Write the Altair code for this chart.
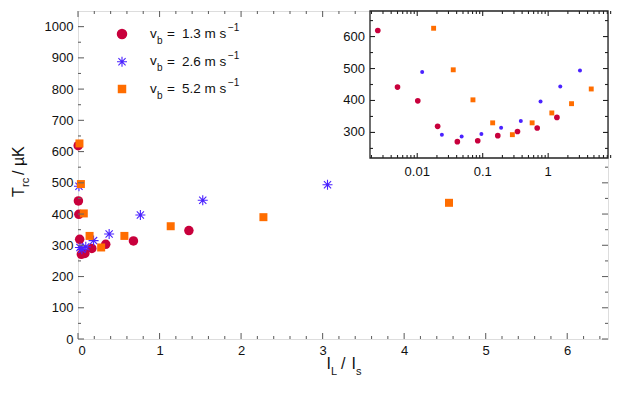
import altair as alt
import pandas as pd

# ---------------- data ----------------
red_x = [0.0025, 0.005, 0.0102, 0.0205, 0.041, 0.084, 0.17, 0.34, 0.68, 1.36]
red_y = [619, 442, 399, 319, 271, 274, 290, 303, 314, 347]
blue_x = [0.0119, 0.0238, 0.0477, 0.0955, 0.191, 0.382, 0.765, 1.53, 3.06]
blue_y = [489, 293, 287, 295, 315, 336, 397, 444, 494]
orange_x = [0.0178, 0.0355, 0.071, 0.142, 0.284, 0.569, 1.137, 2.274, 4.55]
orange_y = [626, 496, 402, 330, 293, 330, 361, 390, 436]

series_labels = ["1.3", "2.6", "5.2"]
colors = ["#C8003C", "#4A22FF", "#FF6D00"]

main_x_major = [0, 1, 2, 3, 4, 5, 6]
main_x_minor = [round(i * 0.2, 1) for i in range(0, 33) if i % 5 != 0]
main_y_major = list(range(0, 1001, 100))
main_y_minor = list(range(50, 1050, 100))
inset_x_major = [0.01, 0.1, 1]
inset_x_major_labels = ["0.01", "0.1", "1"]
inset_x_minor = [m * d for d in [0.001, 0.01, 0.1, 1] for m in range(2, 10)]
inset_y_major = [300, 400, 500, 600]
inset_y_minor = [250, 350, 450, 550, 650]

# ---------------- layout ----------------
W, H = 530, 328
IX0, IX1, IY0, IY1 = 292, 530, 0, 147
FONT = "Liberation Sans"
AX = "#666666"
INK = "#222222"

xs_main = alt.Scale(domain=[0, 6.5], nice=False, zero=False)
ys_main = alt.Scale(domain=[0, 1050], nice=False, zero=False)
xs_in = alt.Scale(type="log", domain=[0.0019, 8.2], range=[IX0, IX1], nice=False)
ys_in = alt.Scale(domain=[220, 680], range=[IY1, IY0], nice=False, zero=False)

ax_x = alt.Axis(values=main_x_major, format="d", ticks=False, domain=False, grid=False,
                title=None, labelFontSize=13, labelPadding=5, labelColor="#111",
                labelFont=FONT)
ax_y = alt.Axis(values=main_y_major, format="d", ticks=False, domain=False, grid=False,
                title=None, labelFontSize=13, labelPadding=5, labelColor="#111",
                labelFont=FONT)

STAR = "M-1,0L1,0M0,-1L0,1M-0.72,-0.72L0.72,0.72M-0.72,0.72L0.72,-0.72"

one = pd.DataFrame({"a": [0]})


def df(xs, ys):
    return pd.DataFrame({"x": xs, "y": ys})


def main_pts(xs, ys, shape, color, size, filled=True):
    mk = alt.Chart(df(xs, ys)).mark_point(shape=shape, filled=filled, color=color,
                                          size=size, opacity=1,
                                          strokeWidth=1.1)
    return mk.encode(x=alt.X("x:Q", scale=xs_main, axis=ax_x),
                     y=alt.Y("y:Q", scale=ys_main, axis=ax_y))


def inset_pts(xs, ys, shape, color, size, filled=True):
    mk = alt.Chart(df(xs, ys)).mark_point(shape=shape, filled=filled, color=color,
                                          size=size, opacity=1, strokeWidth=1)
    return mk.encode(x=alt.X("x:Q", scale=xs_in, axis=None),
                     y=alt.Y("y:Q", scale=ys_in, axis=None))


def xticks(vals, scale, axis, y0, y1, color, sw=1.1):
    return alt.Chart(pd.DataFrame({"v": vals})).mark_rule(color=color, strokeWidth=sw).encode(
        x=alt.X("v:Q", scale=scale, axis=axis), y=alt.value(y0), y2=alt.value(y1))


def yticks(vals, scale, axis, x0, x1, color, sw=1.1):
    return alt.Chart(pd.DataFrame({"v": vals})).mark_rule(color=color, strokeWidth=sw).encode(
        y=alt.Y("v:Q", scale=scale, axis=axis), x=alt.value(x0), x2=alt.value(x1))


def txt(s, x, y, size, angle=0, align="left", baseline="alphabetic"):
    return alt.Chart(one).mark_text(text=s, font=FONT, fontSize=size, angle=angle,
                                    align=align, baseline=baseline, color="#111").encode(
        x=alt.value(x), y=alt.value(y))


# ---------------- main panel ----------------
main_layers = [
    main_pts(red_x, red_y, "circle", colors[0], 90),
    main_pts(blue_x, blue_y, STAR, colors[1], 100, filled=False),
    main_pts(orange_x, orange_y, "square", colors[2], 64),
    # inward ticks: bottom, top (left of inset), left, right (below inset)
    xticks(main_x_major, xs_main, ax_x, H, H - 6, AX),
    xticks(main_x_minor, xs_main, ax_x, H, H - 3, AX),
    xticks([v for v in main_x_major if v <= 3.5], xs_main, ax_x, 0, 6, AX),
    xticks([v for v in main_x_minor if v <= 3.55], xs_main, ax_x, 0, 3, AX),
    yticks(main_y_major, ys_main, ax_y, 0, 6, AX),
    yticks(main_y_minor, ys_main, ax_y, 0, 3, AX),
    yticks([v for v in main_y_major if v <= 560], ys_main, ax_y, W, W - 6, AX),
    yticks([v for v in main_y_minor if v <= 560], ys_main, ax_y, W, W - 3, AX),
]

# legend (hand built: subscripts / superscripts)
rows = [23, 50.7, 78]
legend_layers = []
for i, ry in enumerate(rows):
    if i == 0:
        sym = alt.Chart(one).mark_point(shape="circle", filled=True, color=colors[0], size=110, opacity=1)
    elif i == 1:
        sym = alt.Chart(one).mark_point(shape=STAR, filled=False, color=colors[1], size=100,
                                        opacity=1, strokeWidth=1.1)
    else:
        sym = alt.Chart(one).mark_point(shape="square", filled=True, color=colors[2], size=72, opacity=1)
    legend_layers.append(sym.encode(x=alt.value(44), y=alt.value(ry)))
    legend_layers.append(txt("v", 72, ry + 3.5, 13.5))
    legend_layers.append(txt("b", 79, ry + 9.5, 10))
    legend_layers.append(txt("=", 89, ry + 4, 13.5))
    legend_layers.append(txt(series_labels[i] + " m s", 104, ry + 4, 13.5))
    legend_layers.append(txt("\u22121", 150, ry - 3, 10))

# axis titles
title_layers = [
    txt("T", -54, 186, 16, angle=270),
    txt("rc", -49, 176, 11, angle=270),
    txt("/ \u00b5K", -54, 164, 16, angle=270),
    txt("I", 248.5, 358, 16),
    txt("L", 253, 364, 11),
    txt("/", 263, 358, 16),
    txt("I", 273.5, 358, 16),
    txt("s", 278, 364, 11),
]

main = alt.layer(*main_layers, *legend_layers, *title_layers)

# ---------------- inset ----------------
frame = alt.Chart(one).mark_rect(fill="white", stroke=INK, strokeWidth=1.3).encode(
    x=alt.value(IX0), x2=alt.value(IX1), y=alt.value(IY0), y2=alt.value(IY1))

inset_xlab = alt.Chart(pd.DataFrame({"v": inset_x_major, "t": inset_x_major_labels})).mark_text(
    font=FONT, fontSize=13, baseline="top", color="#111").encode(
    x=alt.X("v:Q", scale=xs_in, axis=None), y=alt.value(IY1 + 8), text="t:N")
inset_ylab = alt.Chart(pd.DataFrame({"v": inset_y_major})).mark_text(
    font=FONT, fontSize=13, baseline="middle", align="right", color="#111").encode(
    y=alt.Y("v:Q", scale=ys_in, axis=None), x=alt.value(IX0 - 5), text="v:Q")

inset_layers = [
    frame,
    xticks(inset_x_major, xs_in, None, IY1, IY1 - 5, INK),
    xticks(inset_x_minor, xs_in, None, IY1, IY1 - 3, INK),
    xticks(inset_x_major, xs_in, None, IY0, IY0 + 5, INK),
    xticks(inset_x_minor, xs_in, None, IY0, IY0 + 3, INK),
    yticks(inset_y_major, ys_in, None, IX0, IX0 + 5, INK),
    yticks(inset_y_minor, ys_in, None, IX0, IX0 + 3, INK),
    yticks(inset_y_major, ys_in, None, IX1, IX1 - 5, INK),
    yticks(inset_y_minor, ys_in, None, IX1, IX1 - 3, INK),
    inset_pts(red_x, red_y, "circle", colors[0], 32),
    inset_pts(blue_x, blue_y, "circle", colors[1], 16),
    inset_pts(orange_x, orange_y, "square", colors[2], 24),
    inset_xlab,
    inset_ylab,
]
inset = alt.layer(*inset_layers)

chart = alt.layer(main, inset).resolve_scale(x="independent", y="independent").properties(
    width=W, height=H,
    padding={"left": 70, "top": 3, "right": 7, "bottom": 56},
    autosize=alt.AutoSizeParams(type="none"),
).configure_view(stroke=AX, strokeWidth=1.6).configure(font=FONT)

chart.save("out.html", embed_options={"renderer": "svg", "actions": False})
